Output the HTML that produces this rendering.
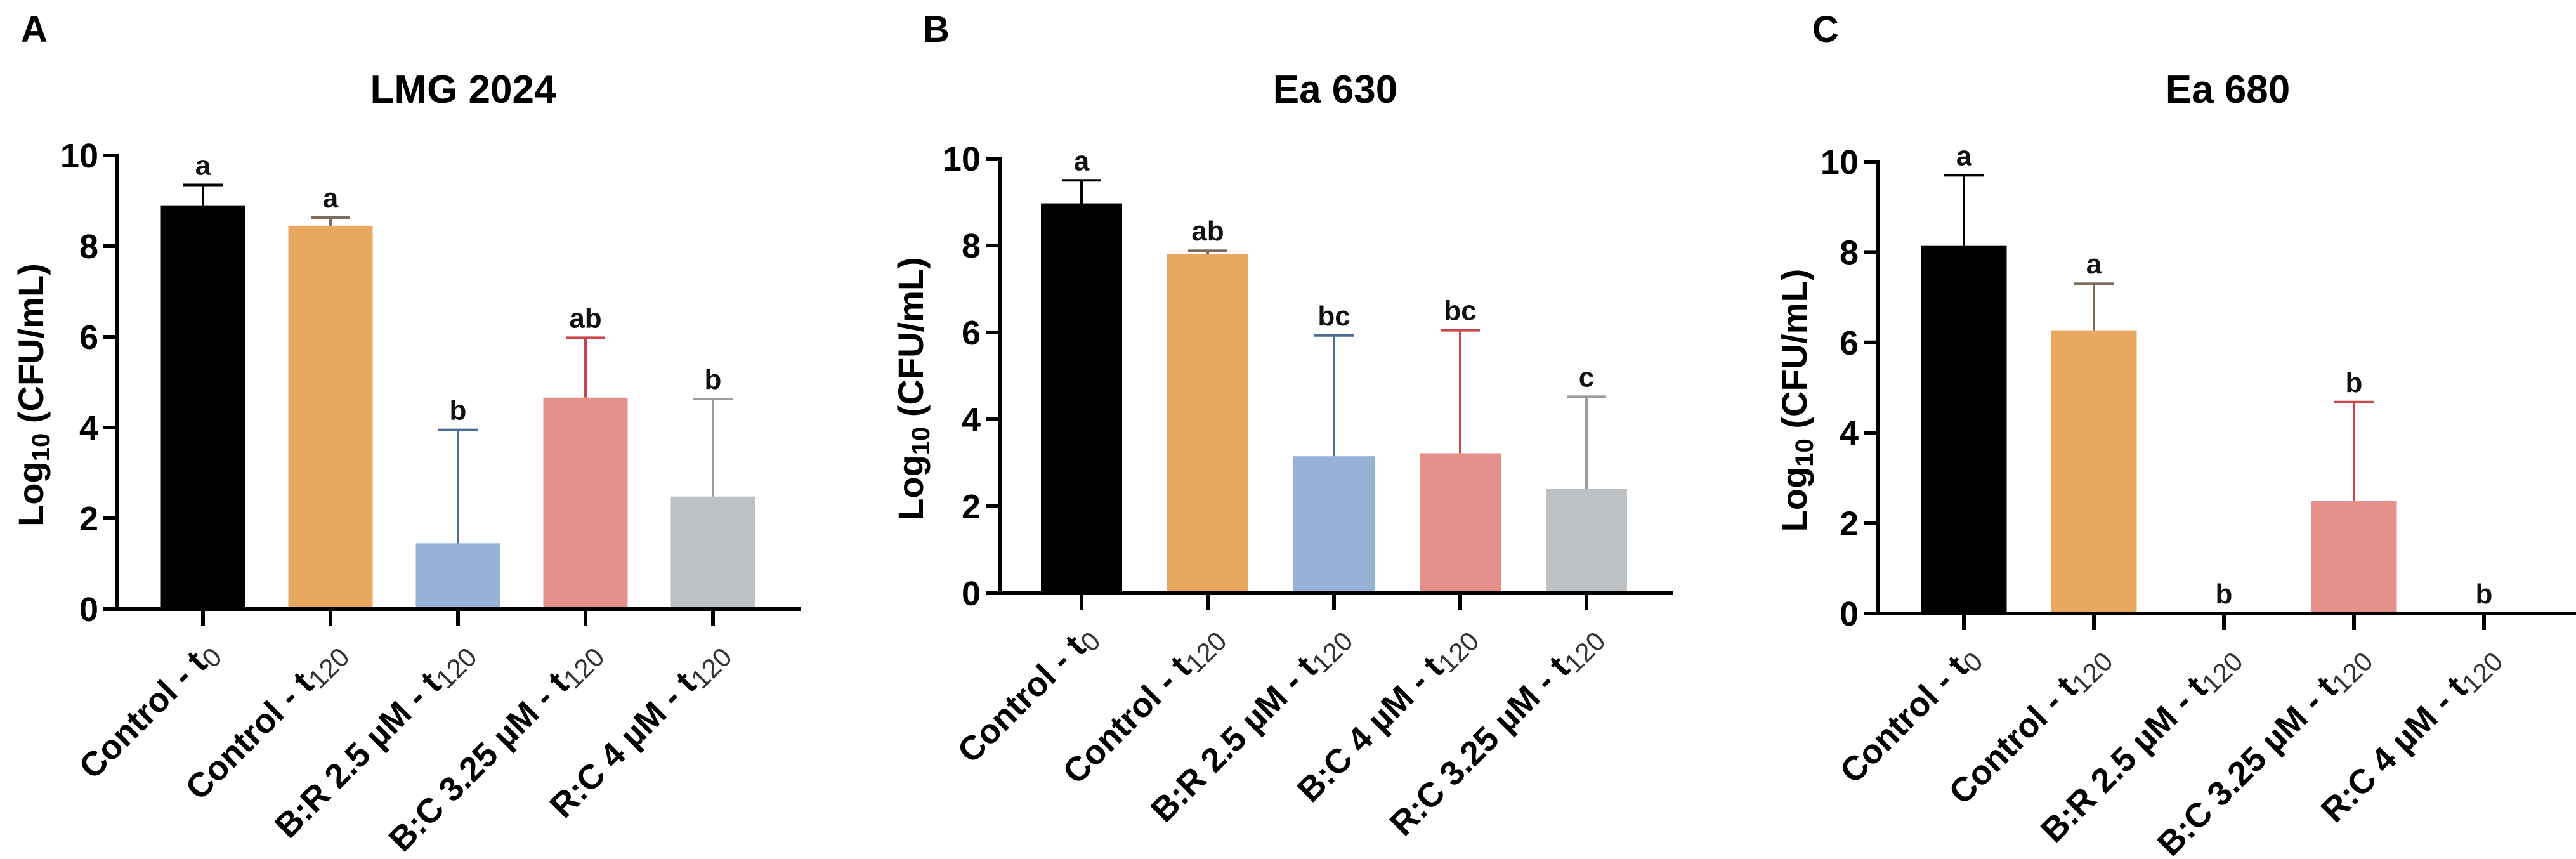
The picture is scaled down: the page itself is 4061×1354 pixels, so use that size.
<!DOCTYPE html>
<html><head><meta charset="utf-8"><style>
html,body{margin:0;padding:0;background:#fff;}
svg{display:block;font-family:"Liberation Sans",Arial,sans-serif;}
</style></head><body>
<svg id="fig" width="4061" height="1354" viewBox="0 0 4061 1354" xmlns="http://www.w3.org/2000/svg"></svg>
<script>
// ---- data ----
const labelsA = ["Control - t|0","Control - t|120","B:R 2.5 µM - t|120","B:C 3.25 µM - t|120","R:C 4 µM - t|120"];
const labelsB = ["Control - t|0","Control - t|120","B:R 2.5 µM - t|120","B:C 4 µM - t|120","R:C 3.25 µM - t|120"];
const labelsC = ["Control - t|0","Control - t|120","B:R 2.5 µM - t|120","B:C 3.25 µM - t|120","R:C 4 µM - t|120"];
const valuesA = [8.9, 8.45, 1.45, 4.66, 2.48];
const errorsA = [0.45, 0.18, 2.5, 1.32, 2.15];
const valuesB = [8.97, 7.8, 3.15, 3.22, 2.4];
const errorsB = [0.53, 0.08, 2.78, 2.83, 2.12];
const valuesC = [8.15, 6.27, 0, 2.5, 0];
const errorsC = [1.55, 1.03, 0, 2.18, 0];
const lettersA = ["a","a","b","ab","b"];
const lettersB = ["a","ab","bc","bc","c"];
const lettersC = ["a","a","b","b","b"];
const titles = ["LMG 2024","Ea 630","Ea 680"];
const panelTags = ["A","B","C"];
const yTicks = [0,2,4,6,8,10];

const fills = ["#000000","#E8A860","#97B2D6","#E5908A","#BDC1C4"];
const errCols = ["#000000","#7d6c5c","#4a6c95","#c9474a","#9b9a94"];

// layout (not data)
const panels = [
  {labels:labelsA, vals:valuesA, errs:errorsA, lets:lettersA, ax:185, axEnd:1262, y0:960, y10:245, x0:320, dx:201, bw:133, tx:730, tag:54, ytx:50},
  {labels:labelsB, vals:valuesB, errs:errorsB, lets:lettersB, ax:1576, axEnd:2637, y0:935, y10:250, x0:1705, dx:199, bw:128, tx:2105, tag:1476, ytx:1437},
  {labels:labelsC, vals:valuesC, errs:errorsC, lets:lettersC, ax:2960, axEnd:4061, y0:967, y10:255, x0:3096, dx:205, bw:135, tx:3512, tag:2878, ytx:2830}
];

const NS="http://www.w3.org/2000/svg";
const svg=document.getElementById('fig');
function mk(tag,attrs,parent){const e=document.createElementNS(NS,tag);for(const k in attrs)e.setAttribute(k,attrs[k]);(parent||svg).appendChild(e);return e;}

panels.forEach((p,pi)=>{
  const g=mk('g',{});
  
  
  const yS=v=>p.y0-(p.y0-p.y10)*v/10;
  const xS=i=>p.x0+p.dx*i;

  const tag=mk('text',{x:p.tag,y:66,'font-size':58,'font-weight':'bold','text-anchor':'middle'},g);
  tag.textContent=panelTags[pi];
  
  

  const t=mk('text',{x:p.tx,y:162,'font-size':62,'font-weight':'bold','text-anchor':'middle'},g);
  t.textContent=titles[pi];
  
  

  p.vals.forEach((v,i)=>{
    if(v>0){
      const r=mk('rect',{x:xS(i)-p.bw/2,y:yS(v),width:p.bw,height:p.y0-yS(v),fill:fills[i]},g);
      
      
    }
    if(p.errs[i]>0){
      const top=yS(v+p.errs[i]);
      const eg=mk('g',{stroke:errCols[i],'stroke-width':4},g);
      
      
      mk('line',{x1:xS(i),x2:xS(i),y1:yS(v),y2:top},eg);
      mk('line',{x1:xS(i)-31,x2:xS(i)+31,y1:top,y2:top},eg);
    }
    const ly=(p.errs[i]>0?yS(v+p.errs[i]):yS(v))-16;
    const lt=mk('text',{x:xS(i),y:ly,'font-size':44,'font-weight':'bold','text-anchor':'middle',fill:'#111'},g);
    lt.textContent=p.lets[i];
    
    
  });

  const axg=mk('g',{stroke:'#000','stroke-width':6,fill:'none'},g);
  
  
  mk('line',{x1:p.ax,x2:p.ax,y1:p.y10-3,y2:p.y0+3},axg);
  mk('line',{x1:p.ax-22,x2:p.axEnd,y1:p.y0,y2:p.y0},axg);
  yTicks.forEach(v=>{
    mk('line',{x1:p.ax-22,x2:p.ax,y1:yS(v),y2:yS(v)},axg);
    const tl=mk('text',{x:p.ax-30,y:yS(v)+19,'font-size':54,'font-weight':'bold','text-anchor':'end'},g);
    tl.textContent=v;
    
    
  });
  p.labels.forEach((lab,i)=>{
    mk('line',{x1:xS(i),x2:xS(i),y1:p.y0,y2:p.y0+26},axg);
    const parts=lab.split('|');
    const ex=xS(i)+26, ey=p.y0+72;
    const tx=mk('text',{x:ex,y:ey,'font-size':54,'font-weight':'bold','text-anchor':'end',transform:`rotate(-45 ${ex} ${ey})`},g);
    
    
    const s1=mk('tspan',{},tx); s1.textContent=parts[0];
    const s2=mk('tspan',{'font-size':42,'font-weight':'normal',fill:'#333',dy:9},tx); s2.textContent=parts[1];
  });

  const yc=(p.y0+p.y10)/2+20;
  const yt=mk('text',{x:p.ytx,y:yc,'font-size':56,'font-weight':'bold','text-anchor':'middle',transform:`rotate(-90 ${p.ytx} ${yc})`,dy:18},g);
  
  
  const a=mk('tspan',{},yt); a.textContent='Log';
  const b=mk('tspan',{'font-size':40,dy:10},yt); b.textContent='10';
  const c=mk('tspan',{dy:-10},yt); c.textContent=' (CFU/mL)';
});
</script>
</body></html>
